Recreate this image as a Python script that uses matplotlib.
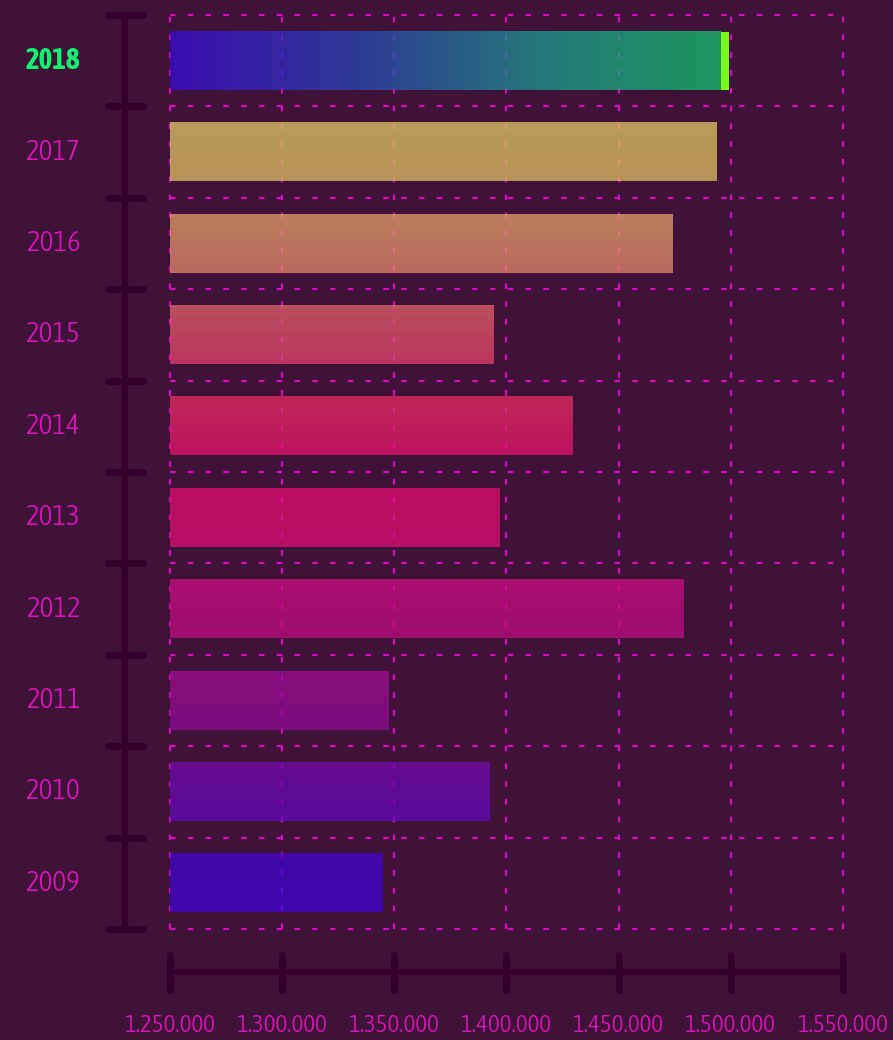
import numpy as np
import matplotlib
matplotlib.use("Agg")
import matplotlib.pyplot as plt
from matplotlib import transforms, font_manager
from matplotlib.colors import LinearSegmentedColormap, Normalize, to_rgb

# data
years = ['2009', '2010', '2011', '2012', '2013', '2014', '2015', '2016', '2017', '2018']
values = [1344900, 1392200, 1347600, 1478700, 1396700, 1429200, 1394400, 1473800, 1493400, 1499000]
xticks = [1250000, 1300000, 1350000, 1400000, 1450000, 1500000, 1550000]
xtick_labels = ['1.250.000', '1.300.000', '1.350.000', '1.400.000', '1.450.000', '1.500.000', '1.550.000']

# vertical colour ramp (row position, colour) for the normal bars
ramp_pos = [-0.32, 0.32, 0.68, 1.32, 1.68, 2.32, 2.68, 3.32, 3.68, 4.32,
            4.68, 5.32, 5.68, 6.32, 6.68, 7.32, 7.68, 8.32]
ramp_col = ['#3e08ae', '#4208a8', '#5a0a9c', '#660c90', '#7c0d80', '#8a0f7c',
            '#a00f70', '#ac1070', '#b81066', '#bc1060', '#bc1460', '#c02858',
            '#bc3560', '#bc505e', '#bc6a5e', '#bc7e5e', '#b89458', '#bdae5a']
# horizontal ramp for the highlighted year
hl_col = ['#3a0cb0', '#303a98', '#24787a', '#1e9860']
cap_col = '#76ff1a'
cap_w = 3500

bg = '#3f1237'
grid_col = '#dc06c6'
axis_col = '#33002e'
label_col = '#e010c0'
hl_label_col = '#14f070'
BAR_ALPHA = 0.78

# pick condensed font files (light/regular for labels, bold for the highlight)
cond = [f for f in font_manager.fontManager.ttflist
        if 'condensed' in str(f.stretch).lower() or 'Condensed' in f.fname or 'Narrow' in f.fname]
cond = [f for f in cond if 'Mono' not in f.fname and 'Serif' not in f.fname and 'Italic' not in f.fname
        and f.style == 'normal']


def pick(weights, name=None):
    for w in weights:
        for f in cond:
            if name is not None and f.name != name:
                continue
            if f.weight == w or str(f.weight) == str(w):
                return f
    return None


light = pick([300, 'light', 400, 'normal', 'regular'])
bold = None
if light is not None:
    bold = pick([700, 'bold', 600, 500], light.name)
if bold is None:
    bold = pick([700, 'bold', 600, 500])

if light is None:
    FONTPROP = font_manager.FontProperties(family=['Roboto', 'DejaVu Sans'], weight='light')
    year_fs, tick_fs = 17, 13
else:
    FONTPROP = font_manager.FontProperties(fname=light.fname)
    year_fs, tick_fs = 21, 18
if bold is None:
    BOLDPROP, bold_fs = FONTPROP, year_fs
else:
    BOLDPROP = font_manager.FontProperties(fname=bold.fname)
    bold_fs = year_fs if (light is not None and bold.name == light.name) else 16


def unblend(c):
    # colour to draw with alpha so the result over bg looks like c
    c = np.array(to_rgb(c))
    b = np.array(to_rgb(bg))
    return tuple(np.clip((c - (1 - BAR_ALPHA) * b) / BAR_ALPHA, 0, 1))


fig = plt.figure(figsize=(8.93, 10.4), dpi=100, facecolor=bg)
ax = fig.add_axes([170 / 893, 111 / 1040, 673 / 893, 914 / 1040])
ax.set_facecolor(bg)

x0, x1 = xticks[0], xticks[-1]

# dashed grid, incl. the outer frame
for xv in xticks:
    ax.axvline(xv, color=grid_col, lw=1.6, dashes=(2.5, 5.5), zorder=1, clip_on=False)
for k in range(len(years) + 1):
    ax.axhline(k - 0.5, color=grid_col, lw=1.6, dashes=(2.5, 5.5), zorder=1, clip_on=False)

# bars
h = 0.635
pos = [(p + 0.5) / len(years) for p in ramp_pos]
pos[0], pos[-1] = 0.0, 1.0
vcmap = LinearSegmentedColormap.from_list('v', list(zip(pos, [unblend(c) for c in ramp_col])))
hcmap = LinearSegmentedColormap.from_list('h', [unblend(c) for c in hl_col])
norm = Normalize(-0.5, len(years) - 0.5)

bars = ax.barh(range(len(years)), [v - x0 for v in values], left=x0, height=h,
               color='none', edgecolor='none')
for i, (b, v) in enumerate(zip(bars, values)):
    lo, hi = i - h / 2, i + h / 2
    if i == len(years) - 1:
        grad = np.linspace(0, 1, 256).reshape(1, -1)
        ax.imshow(grad, extent=[x0, v - cap_w, lo, hi], aspect='auto', cmap=hcmap,
                  vmin=0, vmax=1, alpha=BAR_ALPHA, zorder=2, interpolation='bilinear')
        ax.barh(i, cap_w, left=v - cap_w, height=h, color=cap_col, zorder=3)
    else:
        grad = np.linspace(lo, hi, 64).reshape(-1, 1)
        ax.imshow(grad, extent=[x0, v, lo, hi], aspect='auto', cmap=vcmap, norm=norm,
                  origin='lower', alpha=BAR_ALPHA, zorder=2, interpolation='bilinear')
ax.set_xlim(x0, x1)
ax.set_ylim(-0.5, len(years) - 0.5)

for s in ax.spines.values():
    s.set_visible(False)
ax.set_xticks([])
ax.set_yticks([])

# left timeline axis
ty = transforms.blended_transform_factory(ax.transAxes, ax.transData)
ax.plot([-0.0669, -0.0669], [-0.5, len(years) - 0.5], transform=ty, color=axis_col,
        lw=4.5, solid_capstyle='butt', clip_on=False, zorder=1)
for k in range(len(years) + 1):
    ax.plot([-0.0921, -0.0401], [k - 0.5, k - 0.5], transform=ty, color=axis_col,
            lw=5, solid_capstyle='round', clip_on=False, zorder=1)
for i, yr in enumerate(years):
    hl = i == len(years) - 1
    ax.text(-0.174, i, yr, transform=ty, ha='center', va='center',
            fontsize=bold_fs if hl else year_fs,
            color=hl_label_col if hl else label_col,
            fontproperties=BOLDPROP if hl else FONTPROP)

# bottom axis
tx = transforms.blended_transform_factory(ax.transData, ax.transAxes)
ax.plot([x0, x1], [-0.047, -0.047], transform=tx, color=axis_col, lw=4.5,
        solid_capstyle='butt', clip_on=False)
for xv, lab in zip(xticks, xtick_labels):
    ax.plot([xv, xv], [-0.0284, -0.0667], transform=tx, color=axis_col, lw=5,
            solid_capstyle='round', clip_on=False)
    ax.text(xv, -0.106, lab, transform=tx, ha='center', va='center',
            color=label_col, fontproperties=FONTPROP, fontsize=tick_fs)

fig.savefig('out.png', dpi=100, facecolor=bg)
